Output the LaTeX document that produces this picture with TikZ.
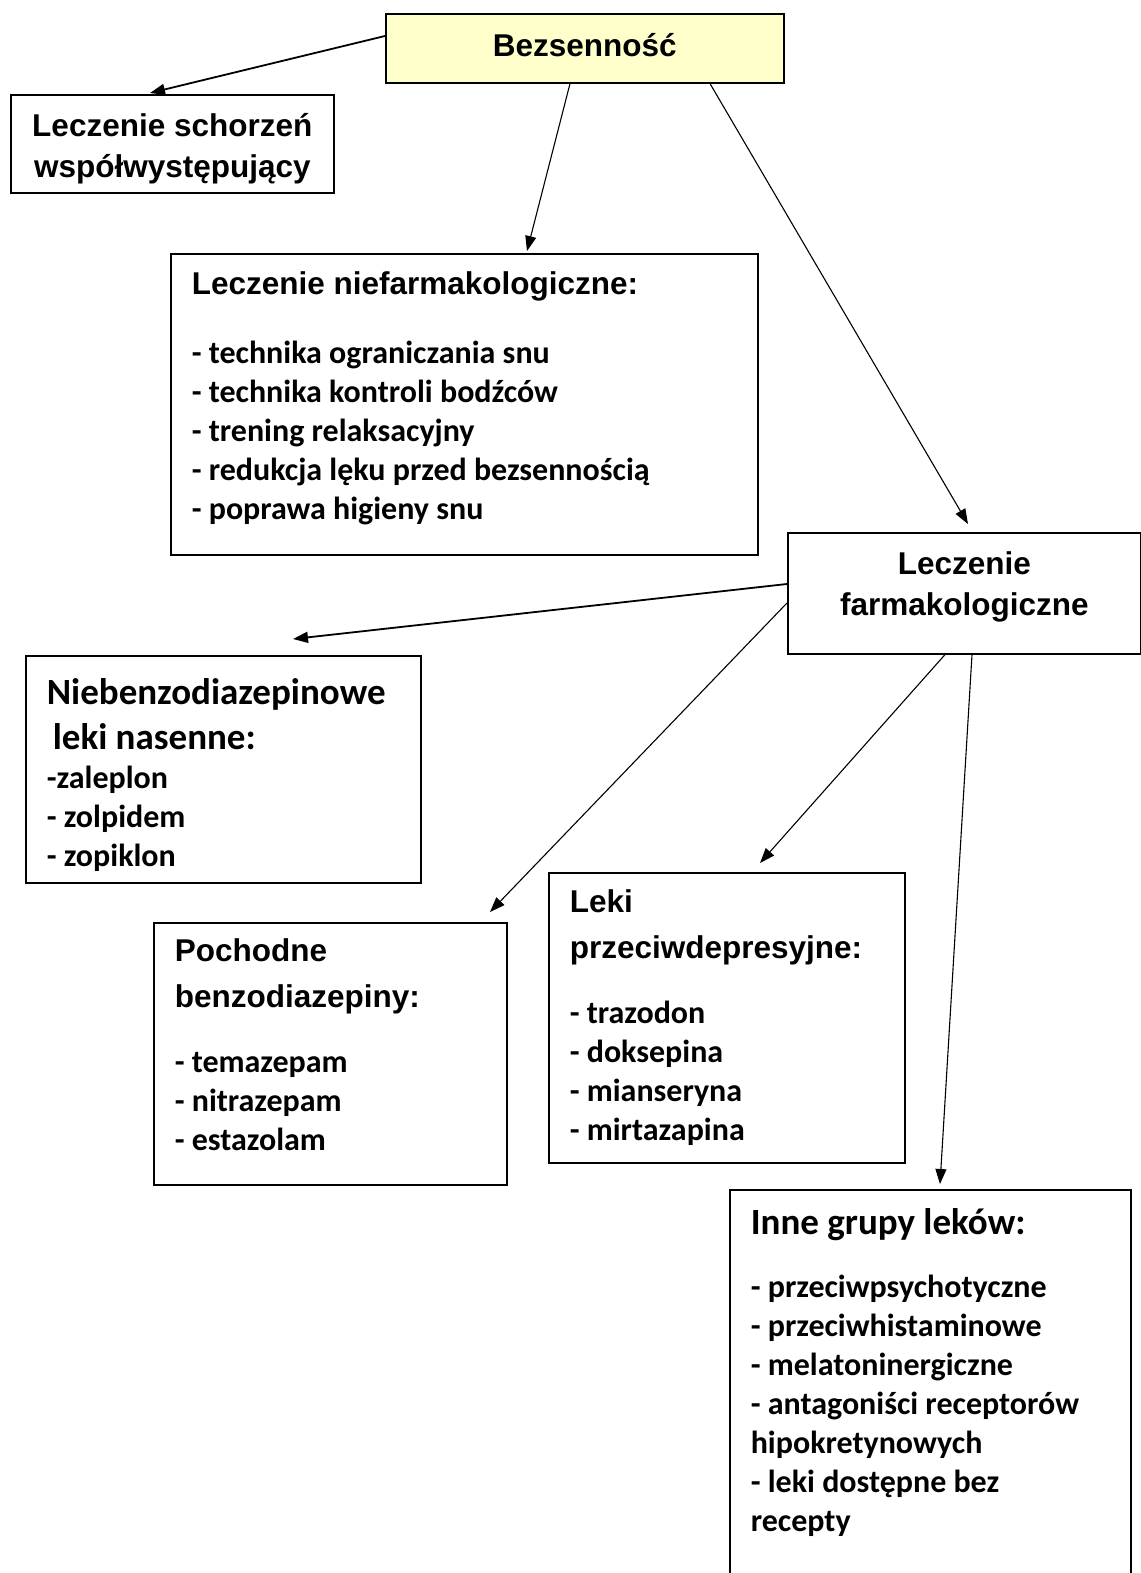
\documentclass[tikz,border=0pt]{standalone}
\usepackage{fontspec}
\usetikzlibrary{arrows.meta}

\newfontfamily\arialfont{Liberation Sans}
\newfontfamily\calfont{Carlito}
\newcommand{\fixsp}{\spaceskip=\fontdimen2\font\relax\xspaceskip=0pt\relax\ignorespaces}
\newcommand{\hd}[1][46]{\arialfont\bfseries\fontsize{31.5}{#1}\selectfont\fixsp}
\newcommand{\hdc}{\calfont\bfseries\fontsize{37}{45}\selectfont\fixsp}
\newcommand{\itm}{\calfont\bfseries\fontsize{32}{39}\selectfont\fixsp}
\definecolor{bezfill}{RGB}{255,255,204}

\tikzset{
  box/.style={draw, line width=1.6pt, anchor=north west, inner ysep=0pt},
  lbox/.style={box, inner xsep=21pt, align=left},
  cbox/.style={box, inner xsep=0pt, align=center},
  link/.style={-{Triangle[length=15pt,width=11pt]}, line width=1.1pt},
  boldlink/.style={link, line width=1.8pt}
}

\begin{document}
\begin{tikzpicture}[x=1pt, y=-1pt]
  \useasboundingbox (0,0) rectangle (1140,1573);

  % top of the tree
  \node[cbox, fill=bezfill, text width=398pt, text height=43pt, text depth=26pt]
    (bez) at (385,13) {\hd Bezsenność\par};
  \node[cbox, text width=323pt, text height=42pt, text depth=56pt]
    (lsch) at (10,94) {\hd[41] Leczenie schorzeń\\współwystępujący\par};
  \node[lbox, text width=545pt, text height=41pt, text depth=260pt]
    (nief) at (170,253) {\hd Leczenie niefarmakologiczne:\par\vspace{30pt}%
      \itm - technika ograniczania snu\\- technika kontroli bodźców\\%
      - trening relaksacyjny\\- redukcja lęku przed bezsennością\\%
      - poprawa higieny snu\par};
  \node[cbox, text width=353pt, text height=42pt, text depth=79pt]
    (farm) at (787,532) {\hd[41] Leczenie\\farmakologiczne\par};

  % groups of drugs
  \node[lbox, text width=353pt, text height=49pt, text depth=178pt]
    (nbz) at (25,655) {\hdc Niebenzodiazepinowe\\\hspace*{6pt}leki nasenne:\par%
      \itm -zaleplon\\- zolpidem\\- zopiklon\par};
  \node[lbox, text width=311pt, text height=39pt, text depth=223pt]
    (poch) at (153,922) {\hd Pochodne\\benzodiazepiny:\par\vspace{26pt}%
      \itm - temazepam\\- nitrazepam\\- estazolam\par};
  \node[lbox, text width=314pt, text height=40pt, text depth=250pt]
    (leki) at (548,872) {\hd Leki\\przeciwdepresyjne:\par\vspace{26pt}%
      \itm - trazodon\\- doksepina\\- mianseryna\\- mirtazapina\par};
  \node[lbox, text width=359pt, text height=45pt, text depth=366pt]
    (inne) at (729,1189) {\hdc Inne grupy leków:\par\vspace{24pt}%
      \itm - przeciwpsychotyczne\\- przeciwhistaminowe\\- melatoninergiczne\\%
      - antagoniści receptorów\\hipokretynowych\\- leki dostępne bez\\recepty\par};

  % arrows
  \draw[boldlink] ([yshift=-23pt]bez.north west) -- ([xshift=140pt,yshift=1pt]lsch.north west);
  \draw[link] ([xshift=185pt]bez.south west) -- ([xshift=357pt,yshift=2pt]nief.north west);
  \draw[link] ([xshift=325pt]bez.south west) -- ([xshift=181pt,yshift=8pt]farm.north west);
  \draw[boldlink] ([yshift=-52pt]farm.north west) -- ([xshift=268pt,yshift=16pt]nbz.north west);
  \draw[link] ([yshift=-71pt]farm.north west) -- ([xshift=337pt,yshift=10pt]poch.north west);
  \draw[link] ([xshift=158pt]farm.south west) -- ([xshift=212pt,yshift=9pt]leki.north west);
  \draw[link] ([xshift=185pt]farm.south west) -- ([xshift=211pt,yshift=5pt]inne.north west);
\end{tikzpicture}
\end{document}
